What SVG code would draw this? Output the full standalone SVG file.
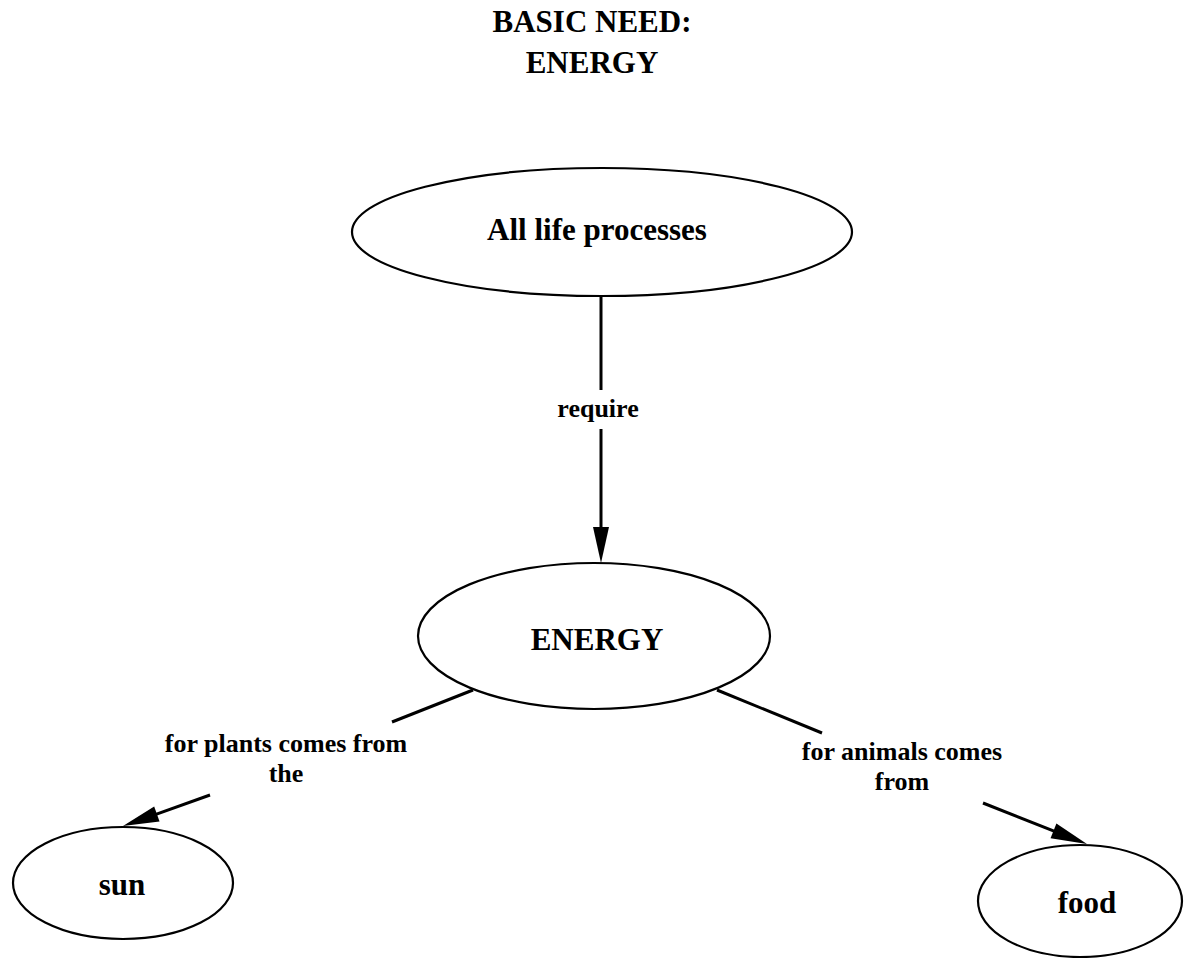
<svg xmlns="http://www.w3.org/2000/svg" width="1184" height="958" viewBox="0 0 1184 958">
  <style>
    .node { fill: #ffffff; stroke: #000000; stroke-width: 2.2; }
    .ntext { font-family: "Liberation Serif", "Times New Roman", serif; font-weight: bold; font-size: 31px; fill: #000000; text-anchor: middle; }
    .ltext { font-family: "Liberation Serif", "Times New Roman", serif; font-weight: bold; font-size: 26px; fill: #000000; text-anchor: middle; }
    .title { font-family: "Liberation Serif", "Times New Roman", serif; font-weight: bold; font-size: 31px; fill: #000000; text-anchor: middle; }
    .edge { fill: none; stroke: #000000; stroke-width: 3; }
  </style>
  <defs>
    <marker id="arrow" markerUnits="userSpaceOnUse" markerWidth="36" markerHeight="16" refX="4" refY="8" orient="auto" overflow="visible">
      <path d="M0,0 L36,8 L0,16 z" fill="#000000"/>
    </marker>
  </defs>
  <rect x="0" y="0" width="1184" height="958" fill="#ffffff"/>

  <g id="title">
    <text class="title" x="592" y="32">BASIC NEED:</text>
    <text class="title" x="592" y="73">ENERGY</text>
  </g>

  <g id="connectors">
    <!-- All life processes -> ENERGY -->
    <line class="edge" x1="601" y1="296" x2="601" y2="390"/>
    <line class="edge" x1="601" y1="429" x2="601" y2="531" marker-end="url(#arrow)"/>
    <text class="ltext" x="598" y="417">require</text>
    <!-- ENERGY -> sun -->
    <line class="edge" x1="473" y1="690" x2="392" y2="722"/>
    <line class="edge" x1="210" y1="795" x2="153.1" y2="815.3" marker-end="url(#arrow)"/>
    <text class="ltext" x="286" y="752">for plants comes from</text>
    <text class="ltext" x="286" y="782">the</text>
    <!-- ENERGY -> food -->
    <line class="edge" x1="717" y1="690" x2="822" y2="733"/>
    <line class="edge" x1="983" y1="803" x2="1057.2" y2="832.3" marker-end="url(#arrow)"/>
    <text class="ltext" x="902" y="760">for animals comes</text>
    <text class="ltext" x="902" y="790">from</text>
  </g>

  <g id="node-life">
    <ellipse class="node" cx="602" cy="232" rx="250" ry="64"/>
    <text class="ntext" x="597" y="240">All life processes</text>
  </g>

  <g id="node-energy">
    <ellipse class="node" cx="594" cy="636" rx="176" ry="73"/>
    <text class="ntext" x="597" y="650">ENERGY</text>
  </g>

  <g id="node-sun">
    <ellipse class="node" cx="123" cy="883" rx="110" ry="56"/>
    <text class="ntext" x="122" y="895">sun</text>
  </g>

  <g id="node-food">
    <ellipse class="node" cx="1080" cy="901" rx="102" ry="56"/>
    <text class="ntext" x="1087" y="913">food</text>
  </g>
</svg>
